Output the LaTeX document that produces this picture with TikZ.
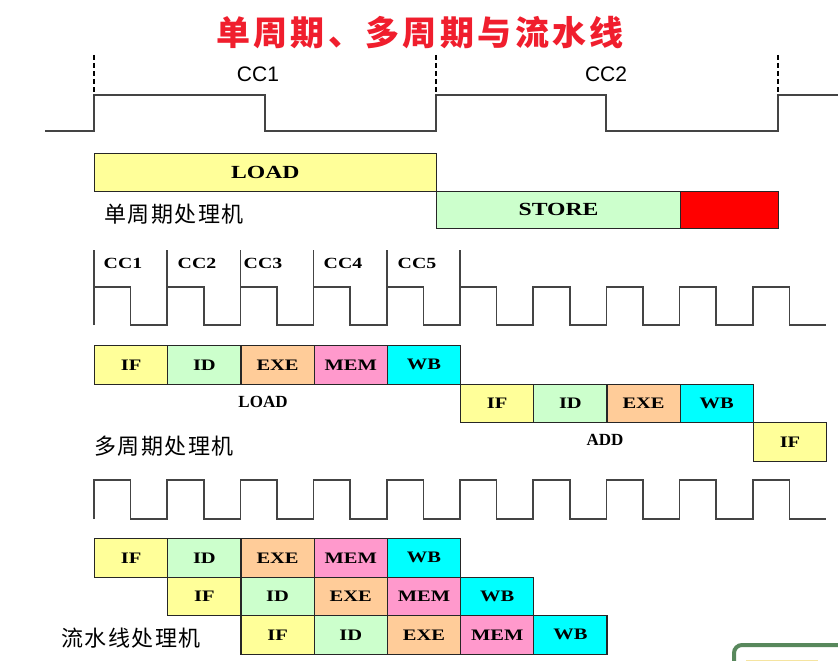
\documentclass[tikz,border=0pt]{standalone}
\usepackage{fontspec}
\setmainfont{Liberation Serif}
\newfontfamily\cjk{Noto Sans CJK SC}
\newfontfamily\lbl{Liberation Serif}[FakeStretch=1.28]
\newfontfamily\arial{Liberation Sans}
\definecolor{cIF}{HTML}{FFFF99}
\definecolor{cID}{HTML}{CCFFCC}
\definecolor{cEXE}{HTML}{FFCC99}
\definecolor{cMEM}{HTML}{FF99CC}
\definecolor{cWB}{HTML}{00FFFF}
\definecolor{cRED}{HTML}{FF0000}
\definecolor{ttl}{RGB}{240,30,45}
\definecolor{clkc}{HTML}{444444}
\definecolor{frame}{RGB}{88,136,92}
\definecolor{paley}{RGB}{245,228,160}
\tikzset{
  cell/.style={draw=black!85, line width=1.2pt, minimum width=73.2pt, minimum height=38.5pt,
    anchor=north west, inner sep=0pt, font=\lbl\bfseries\fontsize{16}{16}\selectfont},
  wide/.style={cell, minimum height=37.5pt, font=\lbl\bfseries\fontsize{18.5}{18.5}\selectfont},
  clk/.style={draw=clkc, line width=1.6pt, line join=miter},
  cclbl/.style={font=\lbl\bfseries\fontsize{15.5}{15.5}\selectfont, inner sep=0pt},
  cjklbl/.style={font=\cjk\fontsize{22}{22}\selectfont\addfontfeature{LetterSpace=7}, inner sep=0pt, anchor=west},
  insn/.style={font=\rmfamily\bfseries\fontsize{17}{17}\selectfont, inner sep=0pt}
}
\begin{document}
\begin{tikzpicture}[x=1pt,y=-1pt]
\clip (0,0) rectangle (838,661);
\fill[white] (0,0) rectangle (838,661);
% title
\node[font=\cjk\bfseries\fontsize{34}{34}\selectfont\addfontfeature{LetterSpace=10}, text=ttl, inner sep=0pt] (title) at (420,33) {单周期、多周期与流水线};
% top clock
\draw[clk] (45,131) -- (94,131) -- (94,95) -- (265,95) -- (265,131) -- (436,131) -- (436,95) -- (606,95) -- (606,131) -- (778,131) -- (778,95) -- (838,95);
\foreach \x in {94,436,778}{\draw[black, line width=2.2pt, dash pattern=on 5pt off 3pt] (\x,55) -- (\x,95);}
\node[font=\arial\fontsize{21}{21}\selectfont, inner sep=0pt] (cc1top) at (258,74) {CC1};
\node[font=\arial\fontsize{21}{21}\selectfont, inner sep=0pt] (cc2top) at (606,74) {CC2};
% single-cycle
\node[wide, fill=cIF, minimum width=341.5pt] (sload) at (94,153) {LOAD};
\node[wide, fill=cID, minimum width=244pt] (sstore) at (436,190.5) {STORE};
\node[wide, fill=cRED, minimum width=97.5pt] (sred) at (680,190.5) {};
\node[cjklbl] (lsingle) at (104,214) {单周期处理机};
% multi-cycle clock
\foreach \k in {0,...,5}{\draw[clk] ({94+73.2*\k},250) -- ({94+73.2*\k},325);}
\draw[clk] (94,325) \foreach \k in {0,...,9}{ -- ({94+73.2*\k},287) -- ({94+73.2*\k+36.6},287) -- ({94+73.2*\k+36.6},325) -- ({94+73.2*(\k+1)},325)};
\node[cclbl] (cc1) at (123,263) {CC1};
\node[cclbl] (cc2) at (197,263) {CC2};
\node[cclbl] (cc3) at (263,263) {CC3};
\node[cclbl] (cc4) at (343,263) {CC4};
\node[cclbl] (cc5) at (417,263) {CC5};
% multi-cycle boxes
\node[cell, fill=cIF]  (m1) at (94,345) {IF};
\node[cell, fill=cID]  (m2) at (167.2,345) {ID};
\node[cell, fill=cEXE] (m3) at (240.4,345) {EXE};
\node[cell, fill=cMEM] (m4) at (313.6,345) {MEM};
\node[cell, fill=cWB]  (m5) at (386.8,345) {WB};
\node[insn] (mload) at (263,402) {LOAD};
\node[cell, fill=cIF]  (a1) at (460,383.5) {IF};
\node[cell, fill=cID]  (a2) at (533.2,383.5) {ID};
\node[cell, fill=cEXE] (a3) at (606.4,383.5) {EXE};
\node[cell, fill=cWB]  (a4) at (679.6,383.5) {WB};
\node[insn] (madd) at (605,440) {ADD};
\node[cell, fill=cIF]  (n1) at (752.8,422) {IF};
\node[cjklbl] (lmulti) at (94,446) {多周期处理机};
% pipeline clock
\draw[clk] (94,519) \foreach \k in {0,...,9}{ -- ({94+73.2*\k},480) -- ({94+73.2*\k+36.6},480) -- ({94+73.2*\k+36.6},519) -- ({94+73.2*(\k+1)},519)};
% pipeline boxes
\node[cell, fill=cIF]  (p11) at (94,538) {IF};
\node[cell, fill=cID]  (p12) at (167.2,538) {ID};
\node[cell, fill=cEXE] (p13) at (240.4,538) {EXE};
\node[cell, fill=cMEM] (p14) at (313.6,538) {MEM};
\node[cell, fill=cWB]  (p15) at (386.8,538) {WB};
\node[cell, fill=cIF]  (p21) at (167.2,576.5) {IF};
\node[cell, fill=cID]  (p22) at (240.4,576.5) {ID};
\node[cell, fill=cEXE] (p23) at (313.6,576.5) {EXE};
\node[cell, fill=cMEM] (p24) at (386.8,576.5) {MEM};
\node[cell, fill=cWB]  (p25) at (460,576.5) {WB};
\node[cell, fill=cIF]  (p31) at (240.4,615) {IF};
\node[cell, fill=cID]  (p32) at (313.6,615) {ID};
\node[cell, fill=cEXE] (p33) at (386.8,615) {EXE};
\node[cell, fill=cMEM] (p34) at (460,615) {MEM};
\node[cell, fill=cWB]  (p35) at (533.2,615) {WB};
\node[cjklbl] (lpipe) at (61,638) {流水线处理机};
% bottom-right frame fragment
\draw[frame, line width=4pt, rounded corners=8pt] (734,700) -- (734,645) -- (870,645);
\draw[paley, line width=2pt] (746,660.5) -- (818,660.5);
\end{tikzpicture}
\end{document}
